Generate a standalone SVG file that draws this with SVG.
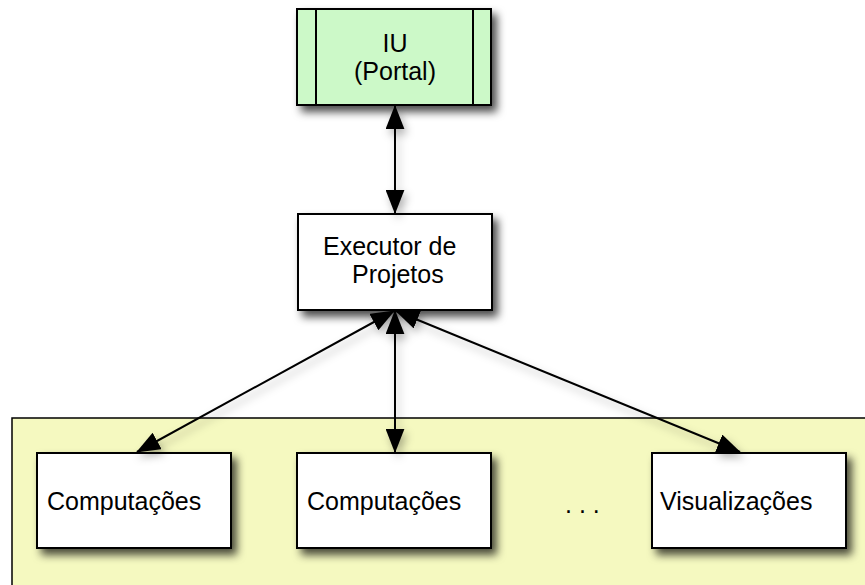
<svg xmlns="http://www.w3.org/2000/svg" width="865" height="585" viewBox="0 0 865 585">
<defs>
<filter id="sh" x="-20%" y="-20%" width="150%" height="160%">
<feDropShadow dx="5" dy="6" stdDeviation="4" flood-color="#000" flood-opacity="0.7"/>
</filter>
<filter id="lsh" x="-20%" y="-20%" width="150%" height="150%">
<feDropShadow dx="3" dy="5" stdDeviation="4" flood-color="#000" flood-opacity="0.3"/>
</filter>
<marker id="ah" markerUnits="userSpaceOnUse" markerWidth="24" markerHeight="19" viewBox="0 0 23 18" refX="22" refY="9" orient="auto-start-reverse">
<path d="M0,0 L23,9 L0,18 z" fill="#000"/>
</marker>
<style>
.box{fill:#fff;stroke:#000;stroke-width:2;filter:url(#sh)}
.t{font-family:"Liberation Sans",Arial,sans-serif;font-size:25px;fill:#000}
.c{stroke:#000;stroke-width:2;fill:none;marker-start:url(#ah);marker-end:url(#ah)}
</style>
</defs>
<g id="container">
<rect x="12" y="418" width="870" height="190" fill="#f5f9c0" stroke="#000" stroke-width="1.5"/>
</g>
<g id="iu">
<rect x="297" y="9" width="194" height="96" fill="#ccf9c8" stroke="#000" stroke-width="2" filter="url(#sh)"/>
<line x1="316" y1="9" x2="316" y2="105" stroke="#000" stroke-width="2"/>
<line x1="473" y1="9" x2="473" y2="105" stroke="#000" stroke-width="2"/>
<text class="t" x="395" y="52" text-anchor="middle">IU</text>
<text class="t" x="395" y="80" text-anchor="middle">(Portal)</text>
</g>
<g id="executor">
<rect class="box" x="298" y="214" width="194" height="96"/>
<text class="t" x="323" y="255">Executor de</text>
<text class="t" x="352" y="283">Projetos</text>
</g>
<g id="comp1">
<rect class="box" x="37" y="453" width="194" height="95"/>
<text class="t" x="47" y="510">Computações</text>
</g>
<g id="comp2">
<rect class="box" x="297" y="453" width="194" height="95"/>
<text class="t" x="307" y="510">Computações</text>
</g>
<g id="dots">
<text class="t" x="565" y="513">. . .</text>
</g>
<g id="vis">
<rect class="box" x="652" y="453" width="194" height="95"/>
<text class="t" x="660" y="510">Visualizações</text>
</g>
<g id="connectors" filter="url(#lsh)">
<line class="c" x1="395" y1="106" x2="395" y2="213"/>
<line class="c" x1="395" y1="311" x2="395" y2="452"/>
<line class="c" x1="394" y1="311" x2="137" y2="452"/>
<line class="c" x1="396" y1="311" x2="740" y2="452"/>
</g>
</svg>
